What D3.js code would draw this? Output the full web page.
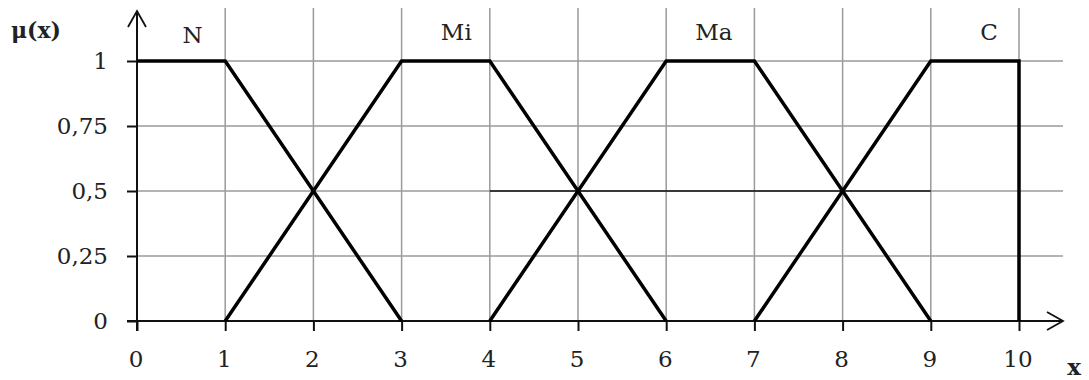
<!DOCTYPE html>
<html>
<head>
<meta charset="utf-8">
<script src="https://cdn.jsdelivr.net/npm/d3@7"></script>
<style>
  html, body { margin: 0; padding: 0; background: #fff; }
  svg { display: block; }
</style>
</head>
<body>
<svg id="chart"></svg>
<script>
// membership functions
const seriesN  = [[0, 1], [1, 1], [3, 0]];
const seriesMi = [[1, 0], [3, 1], [4, 1], [6, 0]];
const seriesMa = [[4, 0], [6, 1], [7, 1], [9, 0]];
const seriesC  = [[7, 0], [9, 1], [10, 1], [10, 0]];
const cutLine  = [[4, 0.5], [9, 0.5]];

const termNames = ["N", "Mi", "Ma", "C"];
const termX     = [0.63, 3.62, 6.54, 9.66];

const xTicks = [0, 1, 2, 3, 4, 5, 6, 7, 8, 9, 10];
const yTicks = [0, 0.25, 0.5, 0.75, 1];
const yTickLabels = ["0", "0,25", "0,5", "0,75", "1"];

/*
 * Dimensions of the drawing
 */
const dims = {
  width: 1089,
  height: 380,
  left: 137,
  plotRight: 1019,
  arrowRight: 1063,
  top: 61,
  bottom: 321,
  gridTop: 8,
  arrowTop: 11
};

const serif = "'DejaVu Serif', serif";

const svg = d3.select("#chart")
    .attr("width", dims.width)
    .attr("height", dims.height);

let x = d3.scaleLinear()
    .domain([0, 10])
    .range([dims.left, dims.plotRight]);

let y = d3.scaleLinear()
    .domain([0, 1])
    .range([dims.bottom, dims.top]);

// Grid
svg.append("g")
    .selectAll("line")
    .data(xTicks.slice(1))
    .join("line")
    .attr("x1", d => x(d)).attr("x2", d => x(d))
    .attr("y1", dims.gridTop).attr("y2", dims.bottom)
    .attr("stroke", "#9a9a9a")
    .attr("stroke-width", 1.5);

svg.append("g")
    .selectAll("line")
    .data(yTicks.slice(1))
    .join("line")
    .attr("x1", dims.left).attr("x2", dims.arrowRight)
    .attr("y1", d => y(d)).attr("y2", d => y(d))
    .attr("stroke", "#9a9a9a")
    .attr("stroke-width", 1.5);

// Axes (ticks only, labels drawn separately)
svg.append("g")
    .attr("transform", `translate(0, ${dims.bottom})`)
    .call(d3.axisBottom(x).tickValues(xTicks).tickSize(10).tickSizeOuter(0).tickFormat(""))
    .call(g => g.select(".domain").remove())
    .call(g => g.selectAll(".tick line").attr("stroke", "#111").attr("stroke-width", 2));

svg.append("g")
    .attr("transform", `translate(${dims.left}, 0)`)
    .call(d3.axisLeft(y).tickValues(yTicks).tickSize(10).tickSizeOuter(0).tickFormat(""))
    .call(g => g.select(".domain").remove())
    .call(g => g.selectAll(".tick line").attr("stroke", "#111").attr("stroke-width", 2));

// axis lines with arrows
svg.append("line")
    .attr("x1", dims.left).attr("x2", dims.left)
    .attr("y1", dims.bottom + 10).attr("y2", dims.arrowTop)
    .attr("stroke", "#111").attr("stroke-width", 2);
svg.append("path")
    .attr("d", `M${dims.left - 9},${dims.arrowTop + 16}L${dims.left},${dims.arrowTop}L${dims.left + 9},${dims.arrowTop + 16}`)
    .attr("fill", "none").attr("stroke", "#111").attr("stroke-width", 1.8);

svg.append("line")
    .attr("x1", dims.left - 10).attr("x2", dims.arrowRight)
    .attr("y1", dims.bottom).attr("y2", dims.bottom)
    .attr("stroke", "#111").attr("stroke-width", 2);
svg.append("path")
    .attr("d", `M${dims.arrowRight - 16},${dims.bottom - 9}L${dims.arrowRight},${dims.bottom}L${dims.arrowRight - 16},${dims.bottom + 9}`)
    .attr("fill", "none").attr("stroke", "#111").attr("stroke-width", 1.8);

// thin cut line at 0.5
let line = d3.line()
    .x(d => x(d[0]))
    .y(d => y(d[1]));

svg.append("path")
    .datum(cutLine)
    .attr("fill", "none")
    .attr("stroke", "#111")
    .attr("stroke-width", 1.6)
    .attr("d", line);

// membership functions
[seriesN, seriesMi, seriesMa, seriesC].forEach(s => {
  svg.append("path")
      .datum(s)
      .attr("fill", "none")
      .attr("stroke", "#000")
      .attr("stroke-width", 3.5)
      .attr("stroke-linejoin", "miter")
      .attr("d", line);
});

// text helper
function label(txt, px, py, anchor, size, weight) {
  svg.append("text")
      .attr("x", px)
      .attr("y", py)
      .attr("text-anchor", anchor)
      .style("font-family", serif)
      .style("font-size", size + "px")
      .style("font-weight", weight || "normal")
      .attr("fill", "#222")
      .text(txt);
}

xTicks.forEach(t => label(String(t), x(t) - 1, 367, "middle", 23));
yTicks.forEach((t, i) => label(yTickLabels[i], 108, y(t) + 8, "end", 23));

// term names
termNames.forEach((n, i) => label(n, x(termX[i]), i === 0 ? 43 : 40, "middle", 23));

// axis titles
label("\u03bc(x)", 36, 38, "middle", 22, "bold");
label("x", 1074, 375, "middle", 23, "bold");
</script>
</body>
</html>
